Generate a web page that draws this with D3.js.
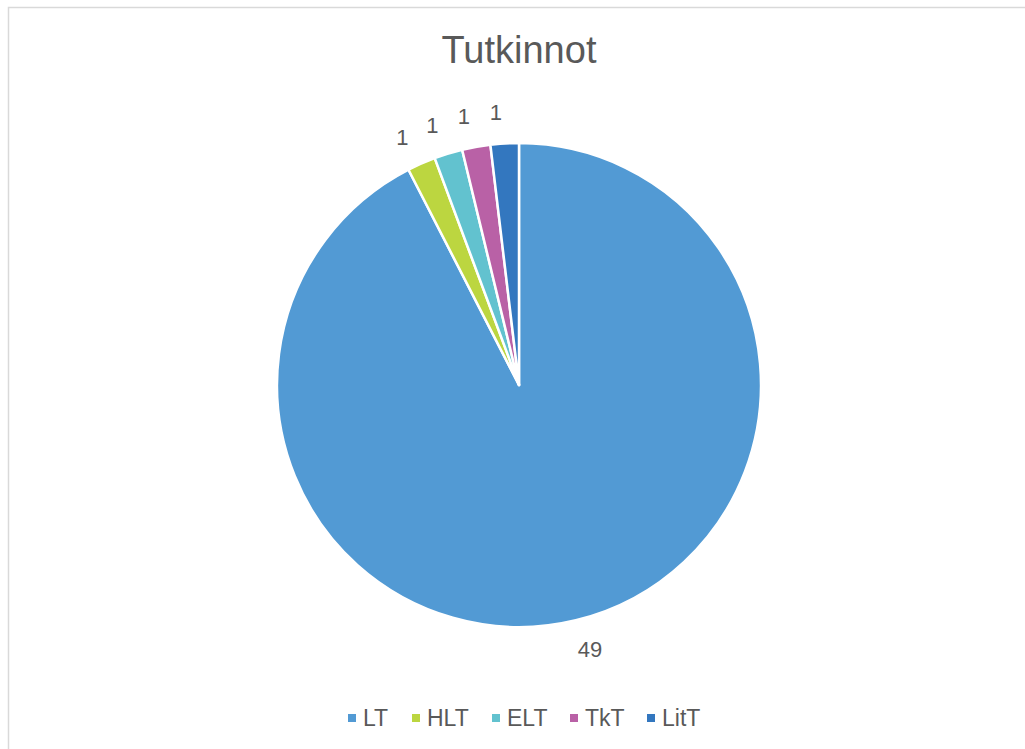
<!DOCTYPE html>
<html>
<head>
<meta charset="utf-8">
<script src="https://cdn.jsdelivr.net/npm/d3@7/dist/d3.min.js"></script>
<style>
  body { margin: 0; background: #fff; }
  svg text { font-family: "Liberation Sans", Arial, sans-serif; fill: #595959; }
</style>
</head>
<body>
<svg id="chart" width="1025" height="749"></svg>
<script>
/* chart data */
var categories = ['LT', 'HLT', 'ELT', 'TkT', 'LitT'];
var values = [49, 1, 1, 1, 1];
var colors = ['#529ad4', '#bcd640', '#62c2cf', '#b961a6', '#3377bf'];
var chartTitle = 'Tutkinnot';

var svg = d3.select('#chart');
var cx = 519, cy = 385, radius = 242;
var labelRadius = 274;

// chart area border
svg.append('rect')
   .attr('x', 8.5).attr('y', 7.5)
   .attr('width', 1030).attr('height', 760)
   .style('fill', 'none').style('stroke', '#d9d9d9').style('stroke-width', 1.5);

svg.append('text')
   .attr('x', cx).attr('y', 63)
   .attr('text-anchor', 'middle')
   .style('font-size', '38px')
   .text(chartTitle);

var pie = d3.pie().sort(null).value(function(d) { return d; });
var arcs = pie(values);
var arc = d3.arc().innerRadius(0).outerRadius(radius);

var g = svg.append('g').attr('transform', 'translate(' + cx + ',' + cy + ')');

g.selectAll('path.slice')
 .data(arcs)
 .enter().append('path')
 .attr('class', 'slice')
 .attr('d', arc)
 .style('fill', function(d, i) { return colors[i]; })
 .style('stroke', '#fff')
 .style('stroke-width', 2.5)
 .style('stroke-linejoin', 'round');

// data labels, placed just outside the slice ends
g.selectAll('text.label')
 .data(arcs)
 .enter().append('text')
 .attr('class', 'label')
 .attr('transform', function(d) {
   var a = (d.startAngle + d.endAngle) / 2 - 0.025;
   return 'translate(' + (labelRadius * Math.sin(a)) + ',' + (-labelRadius * Math.cos(a)) + ')';
 })
 .attr('text-anchor', 'middle')
 .attr('dy', '0.35em')
 .style('font-size', '22px')
 .text(function(d) { return d.value; });

// legend
var legendX = [348, 412, 492, 570, 647];
var legend = svg.selectAll('g.legend')
  .data(categories)
  .enter().append('g')
  .attr('class', 'legend')
  .attr('transform', function(d, i) { return 'translate(' + legendX[i] + ',718)'; });

legend.append('rect')
  .attr('x', 0).attr('y', -4)
  .attr('width', 8).attr('height', 8)
  .style('fill', function(d, i) { return colors[i]; });

legend.append('text')
  .attr('x', 15).attr('dy', '0.36em')
  .style('font-size', '23px')
  .text(function(d) { return d; });
</script>
</body>
</html>
